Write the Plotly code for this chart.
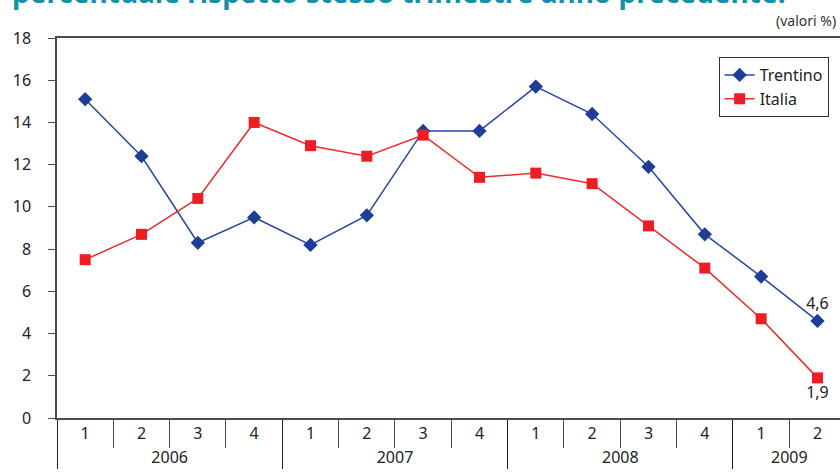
import plotly.graph_objects as go

# Quarterly growth rates (%), same quarter of previous year
years = ["2006"] * 4 + ["2007"] * 4 + ["2008"] * 4 + ["2009"] * 2
quarters = ["1", "2", "3", "4"] * 3 + ["1", "2"]
trentino = [15.1, 12.4, 8.3, 9.5, 8.2, 9.6, 13.6, 13.6, 15.7, 14.4, 11.9, 8.7, 6.7, 4.6]
italia = [7.5, 8.7, 10.4, 14.0, 12.9, 12.4, 13.4, 11.4, 11.6, 11.1, 9.1, 7.1, 4.7, 1.9]
y_ticks = list(range(0, 19, 2))

FONT = "Noto Sans"
AXIS = "#4d4d4d"


def last_label(values):
    out = [""] * len(values)
    out[-1] = f"{values[-1]:.1f}".replace(".", ",")
    return out


fig = go.Figure()
fig.add_trace(go.Scatter(
    x=[years, quarters], y=trentino, name="Trentino",
    mode="lines+markers+text",
    line=dict(color="#2a46a0", width=1.5),
    marker=dict(symbol="diamond", size=11, color="#1f3d96"),
    text=last_label(trentino), textposition="top center",
    textfont=dict(family=FONT, size=16, color="#222"),
))
fig.add_trace(go.Scatter(
    x=[years, quarters], y=italia, name="Italia",
    mode="lines+markers+text",
    line=dict(color="#ee2b2f", width=1.5),
    marker=dict(symbol="square", size=11, color="#ee1c25"),
    text=last_label(italia), textposition="bottom center",
    textfont=dict(family=FONT, size=16, color="#222"),
))

fig.update_layout(
    width=840, height=472,
    margin=dict(l=57, r=0, t=38, b=54),
    paper_bgcolor="white", plot_bgcolor="white",
    font=dict(family=FONT, size=16, color="#222"),
    showlegend=True,
    legend=dict(
        x=0.845, y=0.95, xanchor="left", yanchor="top",
        bordercolor="#333", borderwidth=1, bgcolor="white",
        font=dict(family=FONT, size=16, color="#222"),
        tracegroupgap=0, itemwidth=30,
    ),
    xaxis=dict(
        type="multicategory", range=[-0.5, 13.4],
        showline=True, linecolor=AXIS, linewidth=1.5, mirror=True,
        ticks="outside", ticklen=28, tickcolor=AXIS, tickwidth=1.2,
        tickson="boundaries", showgrid=False,
        showdividers=True, dividercolor="#222", dividerwidth=1.2,
        tickfont=dict(family=FONT, size=16, color="#222"),
    ),
    yaxis=dict(
        range=[0, 18], tickvals=y_ticks, showgrid=False, zeroline=False,
        showline=True, linecolor=AXIS, linewidth=1.5,
        ticks="outside", ticklen=7, tickcolor=AXIS,
        ticklabelstandoff=14,
        tickfont=dict(family=FONT, size=16, color="#222"),
    ),
    annotations=[
        dict(text="<b>percentuale rispetto stesso trimestre anno precedente.</b>",
             xref="paper", yref="paper", x=-0.06, y=1.066, xanchor="left", yanchor="bottom",
             showarrow=False, font=dict(family=FONT, size=28, color="#1590a8")),
        dict(text="(valori %)", xref="paper", yref="paper", x=0.998, y=1.015,
             xanchor="right", yanchor="bottom", showarrow=False,
             font=dict(family=FONT, size=14, color="#333")),
    ],
)

fig.write_html("out.html")
